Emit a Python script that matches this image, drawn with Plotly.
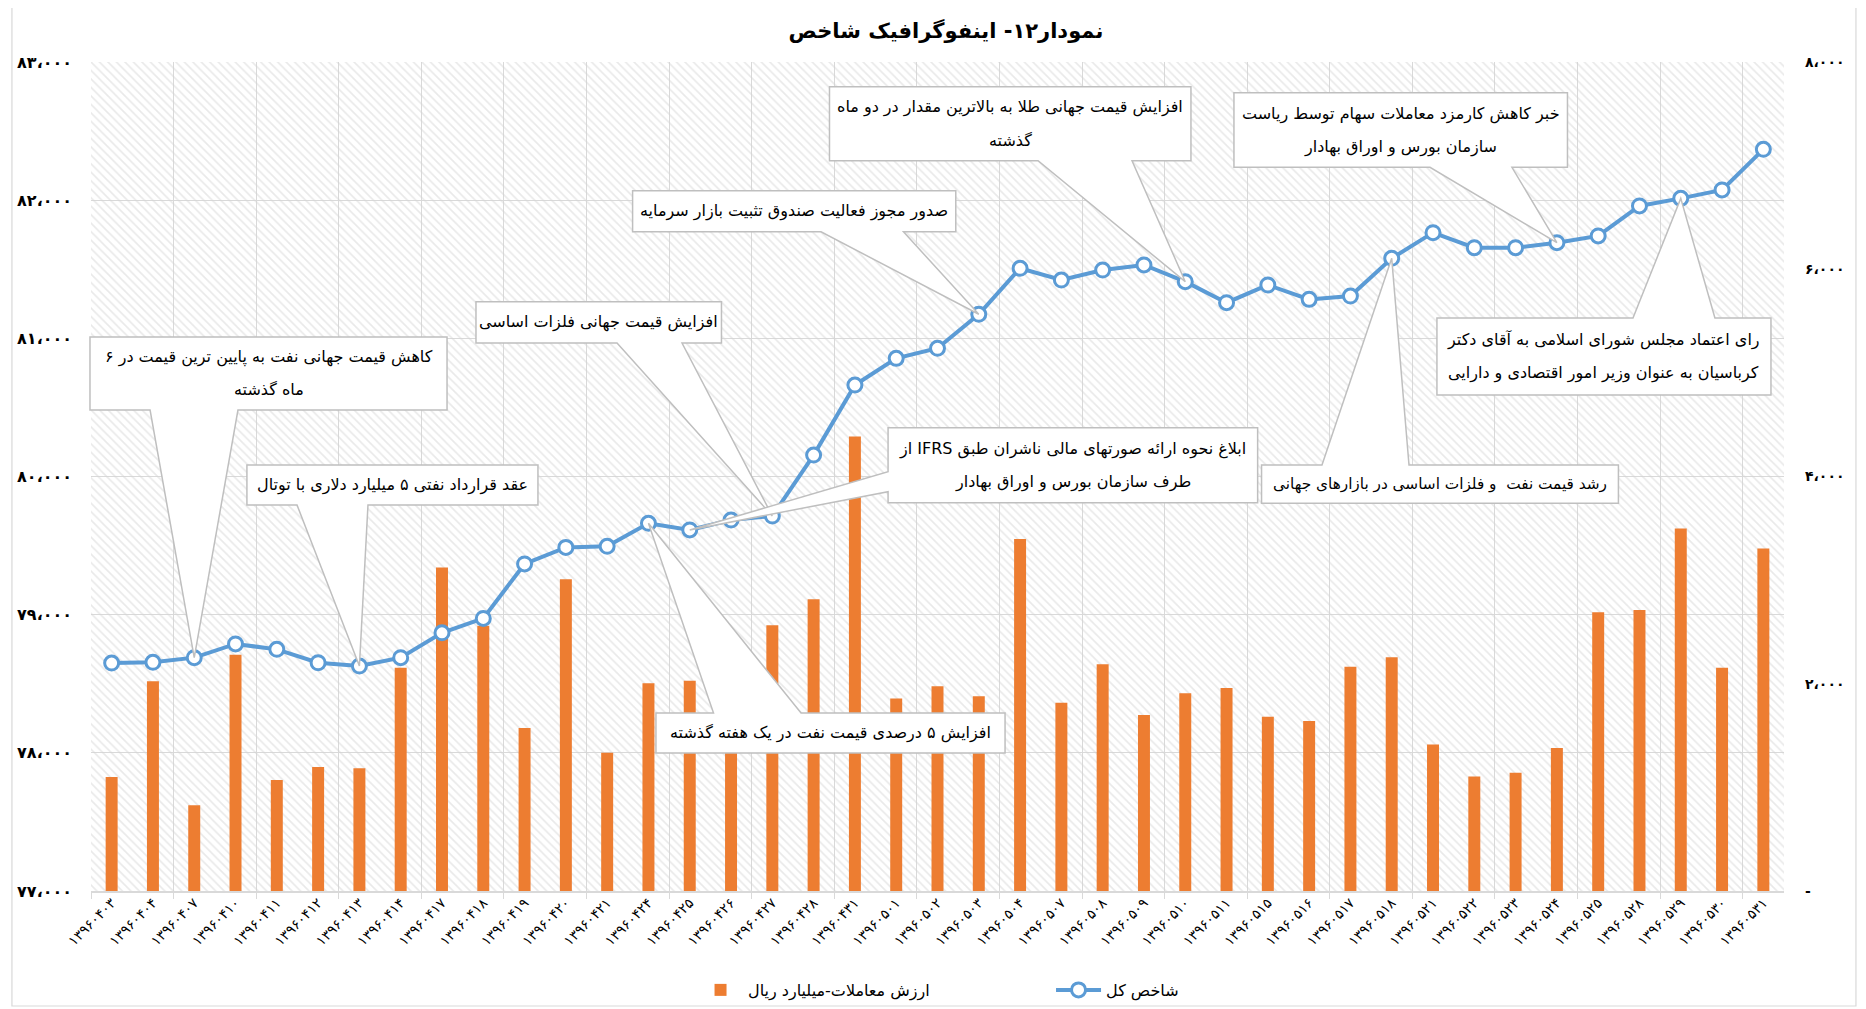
import plotly.graph_objects as go

# ---------------- data ----------------
dates = ["13960403", "13960404", "13960407", "13960410", "13960411", "13960412",
         "13960413", "13960414", "13960417", "13960418", "13960419", "13960420",
         "13960421", "13960424", "13960425", "13960426", "13960427", "13960428",
         "13960431", "13960501", "13960502", "13960503", "13960504", "13960507",
         "13960508", "13960509", "13960510", "13960511", "13960515", "13960516",
         "13960517", "13960518", "13960521", "13960522", "13960523", "13960524",
         "13960525", "13960528", "13960529", "13960530", "13960531"]

index_values = [78650, 78655, 78689, 78788, 78749, 78652, 78628, 78689, 78869, 78973,
                79367, 79487, 79495, 79661, 79613, 79685, 79714, 80155, 80662, 80855,
                80928, 81174, 81507, 81422, 81494, 81531, 81410, 81258, 81386, 81282,
                81306, 81579, 81765, 81656, 81656, 81692, 81741, 81958, 82013, 82074,
                82368]

trade_values = [1100, 2025, 828, 2279, 1071, 1197, 1185, 2154, 3123, 2560,
                1573, 3009, 1333, 2005, 2028, 1900, 2564, 2815, 4387, 1857,
                1975, 1880, 3396, 1816, 2188, 1698, 1909, 1960, 1681, 1641,
                2165, 2256, 1413, 1105, 1140, 1379, 2689, 2712, 3499, 2154,
                3305]

left_ticks = [77000, 78000, 79000, 80000, 81000, 82000, 83000]
right_ticks = [0, 2000, 4000, 6000, 8000]

title_text = "نمودار۱۲- اینفوگرافیک شاخص"
bar_name = "ارزش معاملات-میلیارد ریال"
line_name = "شاخص کل"

# callouts: text lines, target date, box (paper x0,x1,y_bottom,y_top), wedge edge & base
callouts = [
    dict(lines=["کاهش قیمت جهانی نفت به پایین ترین قیمت در ۶", "ماه گذشته"],
         target="13960407", box=(-0.0006, 0.2103, 0.5802, 0.6683), edge="bottom", base=(0.0349, 0.0868)),
    dict(lines=["عقد قرارداد نفتی ۵ میلیارد دلاری با توتال"],
         target="13960413", box=(0.0921, 0.2640, 0.4656, 0.5139), edge="bottom", base=(0.1217, 0.1636)),
    dict(lines=["افزایش قیمت جهانی فلزات اساسی"],
         target="13960427", box=(0.2274, 0.3724, 0.6610, 0.7109), edge="bottom", base=(0.3107, 0.3491)),
    dict(lines=["ابلاغ نحوه ارائه صورتهای مالی ناشران طبق IFRS از", "طرف سازمان بورس و اوراق بهادار"],
         target="13960425", box=(0.4708, 0.6891, 0.4684, 0.5589), edge="left", base=(0.4817, 0.5058)),
    dict(lines=["افزایش ۵ درصدی قیمت نفت در یک هفته گذشته"],
         target="13960424", box=(0.3337, 0.5399, 0.1665, 0.2147), edge="top", base=(0.3677, 0.4194)),
    dict(lines=["صدور مجوز فعالیت صندوق تثبیت بازار سرمایه"],
         target="13960503", box=(0.3199, 0.5108, 0.7952, 0.8448), edge="bottom", base=(0.4312, 0.4799)),
    dict(lines=["افزایش قیمت جهانی طلا به بالاترین مقدار در دو ماه", "گذشته"],
         target="13960510", box=(0.4362, 0.6497, 0.8809, 0.9700), edge="bottom", base=(0.5594, 0.6149)),
    dict(lines=["خبر کاهش کارمزد معاملات سهام توسط ریاست", "سازمان بورس و اوراق بهادار"],
         target="13960524", box=(0.6751, 0.8721, 0.8730, 0.9629), edge="bottom", base=(0.7909, 0.8393)),
    dict(lines=["رای اعتماد مجلس شورای اسلامی به آقای دکتر", "کرباسیان به عنوان وزیر امور اقتصادی و دارایی"],
         target="13960529", box=(0.7950, 0.9923, 0.5983, 0.6912), edge="top", base=(0.9108, 0.9592)),
    dict(lines=["رشد قیمت نفت  و فلزات اساسی در بازارهای جهانی"],
         target="13960518", box=(0.6914, 0.9022, 0.4676, 0.5139), edge="top", base=(0.7271, 0.7785),
         size=15.3),
]

# ---------------- helpers ----------------
FA = str.maketrans("0123456789", "۰۱۲۳۴۵۶۷۸۹")


def fa(s):
    return str(s).translate(FA)


def fa_num(v):
    if v == 0:
        return "-"
    return fa(f"{v:,}".replace(",", "،"))


def rtl(s):
    return "\u202b" + s + "\u202c"


FONT = "DejaVu Sans"
GRID = "#D9D9D9"
N = len(dates)
LMIN, LMAX = left_ticks[0], left_ticks[-1]
RMIN, RMAX = right_ticks[0], right_ticks[-1]
labels = [fa(d) for d in dates]

# page body has an 8px margin: figure is sized/offset to compensate
FIG_W, FIG_H = 1858, 1001
PLOT_H = 829

fig = go.Figure()

# hatched plot-area background
fig.add_trace(go.Bar(
    x=[(N - 1) / 2], y=[1], width=[N], base=[0], xaxis="x", yaxis="y",
    marker=dict(color="rgba(0,0,0,0)", line=dict(width=0),
                pattern=dict(shape="\\", fgcolor="#D4D4D4", bgcolor="rgba(0,0,0,0)",
                             size=6, solidity=0.28)),
    showlegend=False, hoverinfo="skip"))

fig.add_trace(go.Bar(
    x=labels, y=trade_values, name=rtl(bar_name), xaxis="x2", yaxis="y2",
    width=0.29, marker=dict(color="#ED7D31", line=dict(width=0))))

fig.add_trace(go.Scatter(
    x=labels, y=index_values, name=rtl(line_name), xaxis="x2", yaxis="y3",
    mode="lines+markers",
    line=dict(color="#5B9BD5", width=4),
    marker=dict(symbol="circle", size=14, color="white",
                line=dict(color="#5B9BD5", width=3))))

# ---------------- callouts ----------------
shapes = []
annotations = []
LINE_GAP = 33 / PLOT_H
for c in callouts:
    i = dates.index(c["target"])
    tx = (i + 0.5) / N
    ty = (index_values[i] - LMIN) / (LMAX - LMIN)
    x0, x1, y0, y1 = c["box"]
    b0, b1 = c["base"]
    if c["edge"] == "bottom":
        pts = [(x0, y1), (x1, y1), (x1, y0), (b1, y0), (tx, ty), (b0, y0), (x0, y0)]
    elif c["edge"] == "top":
        pts = [(x0, y1), (b0, y1), (tx, ty), (b1, y1), (x1, y1), (x1, y0), (x0, y0)]
    else:  # left
        pts = [(x0, y1), (x1, y1), (x1, y0), (x0, y0), (x0, b0), (tx, ty), (x0, b1)]
    path = "M " + " L ".join(f"{px:.5f},{py:.5f}" for px, py in pts) + " Z"
    shapes.append(dict(type="path", path=path, xref="paper", yref="paper",
                       fillcolor="white", line=dict(color="#BFBFBF", width=1.5),
                       layer="above"))
    cx = (x0 + x1) / 2
    cy = (y0 + y1) / 2
    n = len(c["lines"])
    for k, txt in enumerate(c["lines"]):
        yy = cy + ((n - 1) / 2 - k) * LINE_GAP
        annotations.append(dict(text=rtl(txt), x=cx, y=yy, xref="paper", yref="paper",
                                showarrow=False, xanchor="center", yanchor="middle",
                                font=dict(family=FONT, size=c.get("size", 16), color="#000000")))

# outer chart border
shapes.append(dict(type="rect", xref="paper", yref="paper",
                   x0=-0.0467, x1=1.0425, y0=-0.1387, y1=1.0688,
                   line=dict(color="#D9D9D9", width=1.2), fillcolor="rgba(0,0,0,0)",
                   layer="below"))

fig.update_layout(
    width=FIG_W, height=FIG_H,
    margin=dict(l=83, r=82, t=54, b=118, autoexpand=False),
    paper_bgcolor="white", plot_bgcolor="white",
    font=dict(family=FONT, color="#000000"),
    title=dict(text=rtl(title_text), x=0.5048, y=0.977, xanchor="center", yanchor="middle",
               font=dict(family=FONT, size=21, color="#000000", weight="bold")),
    showlegend=True,
    legend=dict(orientation="h", x=0.3556, xanchor="left", y=-0.1194, yanchor="middle",
                font=dict(family=FONT, size=16, color="#000000"),
                bgcolor="rgba(0,0,0,0)", itemwidth=45, entrywidth=298,
                traceorder="normal"),
    xaxis=dict(type="linear", range=[-0.5, N - 0.5], tickmode="linear", tick0=-0.5, dtick=2,
               showgrid=True, gridcolor=GRID, gridwidth=1.3, showticklabels=False,
               zeroline=False, showline=True, linecolor=GRID, linewidth=1.5,
               ticks="outside", ticklen=6, tickcolor=GRID, tickwidth=1.3, fixedrange=True),
    yaxis=dict(range=[0, 1], visible=False, fixedrange=True),
    xaxis2=dict(type="category", overlaying="x", anchor="y3", side="bottom",
                range=[-0.5, N - 0.5], showgrid=False, zeroline=False, showline=False,
                tickangle=-45, tickfont=dict(family=FONT, size=14, color="#000000"),
                ticks="", fixedrange=True),
    yaxis2=dict(overlaying="y", side="right", anchor="x2", range=[RMIN, RMAX],
                tickmode="array", tickvals=right_ticks,
                ticktext=[fa_num(v) for v in right_ticks],
                showgrid=False, zeroline=False, showline=False, ticks="",
                ticklabelstandoff=20,
                tickfont=dict(family=FONT, size=14, color="#000000", weight="bold"),
                fixedrange=True),
    yaxis3=dict(overlaying="y", side="left", anchor="x2", range=[LMIN, LMAX],
                tickmode="array", tickvals=left_ticks,
                ticktext=[fa_num(v) for v in left_ticks],
                showgrid=True, gridcolor=GRID, gridwidth=1.3, zeroline=False,
                showline=False, ticks="", ticklabelstandoff=18,
                tickfont=dict(family=FONT, size=16, color="#000000", weight="bold"),
                fixedrange=True),
    annotations=annotations,
    shapes=shapes,
)

fig.write_html("out.html")
